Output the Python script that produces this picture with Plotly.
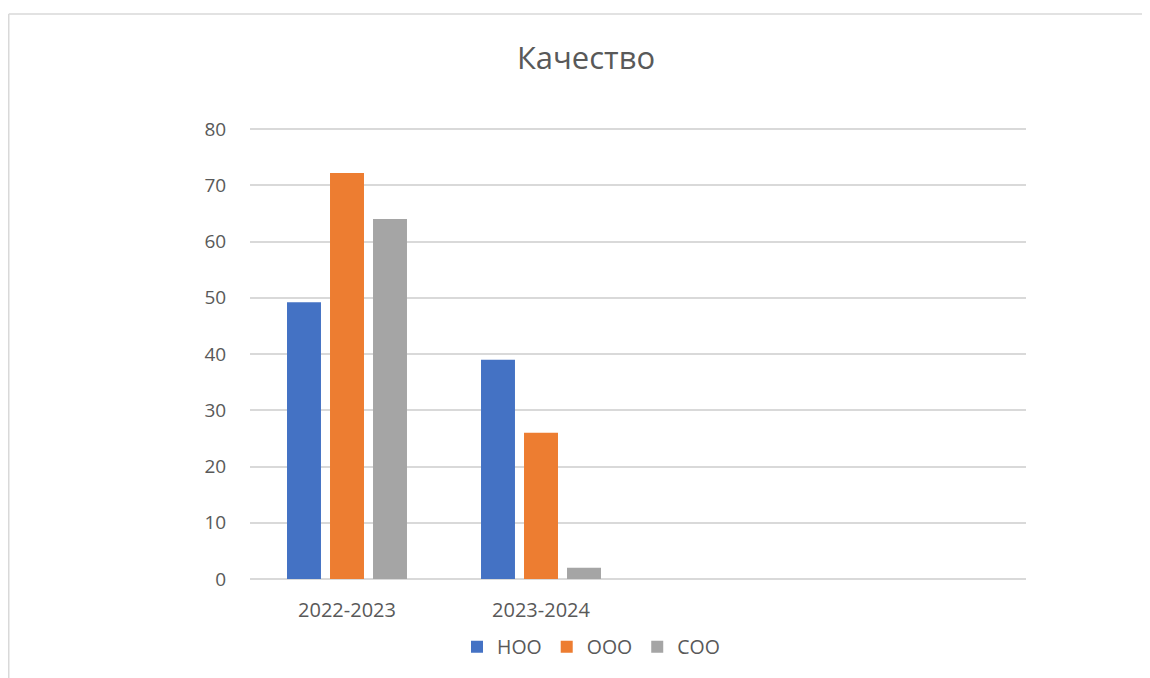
import plotly.graph_objects as go

categories = ["2022-2023", "2023-2024", " ", "  "]
series_names = ["НОО", "ООО", "СОО"]
noo = [49.2, 39, None, None]
ooo = [72.2, 26, None, None]
soo = [64, 2, None, None]
colors = ["#4472C4", "#ED7D31", "#A5A5A5"]
y_ticks = [0, 10, 20, 30, 40, 50, 60, 70, 80]

fig = go.Figure()
for name, vals, c in zip(series_names, [noo, ooo, soo], colors):
    fig.add_trace(go.Bar(x=categories, y=vals, name=name, marker=dict(color=c, line=dict(width=0))))

W, H = 1150, 678
OFF = 8  # page body margin
l, r, t, b = 250 - OFF, 124 + OFF, 128 - OFF, 99 + OFF
pw, ph = W - l - r, H - t - b
fig.update_layout(
    width=W, height=H,
    margin=dict(l=l, r=r, t=t, b=b, autoexpand=False),
    paper_bgcolor="white", plot_bgcolor="white",
    barmode="group", bargap=0.335, bargroupgap=0.21,
    font=dict(family="Open Sans", color="#595959", size=19),
    title=dict(text="Качество", x=(586 - OFF) / W, xref="container", xanchor="center",
               y=1 - (58 - OFF) / H, yref="container", yanchor="middle",
               font=dict(size=31, color="#595959")),
    xaxis=dict(type="category", categoryorder="array", categoryarray=categories,
               showgrid=False, showline=False, ticks="outside", ticklen=13, automargin=False,
               tickcolor="rgba(0,0,0,0)", tickfont=dict(size=20, color="#595959")),
    yaxis=dict(range=[0, 80.2], tickvals=y_ticks, showgrid=True, gridcolor="#D9D9D9", gridwidth=1.6,
               zeroline=True, zerolinecolor="#D9D9D9", zerolinewidth=1.6, showline=False,
               ticks="outside", ticklen=19, tickcolor="rgba(0,0,0,0)", automargin=False,
               tickfont=dict(size=19, color="#595959")),
    legend=dict(orientation="h", x=(591 - OFF) / W, xref="container", xanchor="center",
                y=1 - (647 - OFF) / H, yref="container", yanchor="middle",
                font=dict(size=19.5, color="#595959"), itemwidth=30, traceorder="normal"),
    showlegend=True,
)

# chart area border
top_y = 1 + (t - (14 - OFF)) / ph
left_x = (0.75 - l) / pw
fig.add_shape(type="line", xref="paper", yref="paper",
              x0=left_x, x1=(W + 10 - l) / pw, y0=top_y, y1=top_y,
              line=dict(color="#D9D9D9", width=1.5))
fig.add_shape(type="line", xref="paper", yref="paper",
              x0=left_x, x1=left_x, y0=top_y, y1=-(b + 10) / ph,
              line=dict(color="#D9D9D9", width=1.5))

fig.write_html("out.html")
